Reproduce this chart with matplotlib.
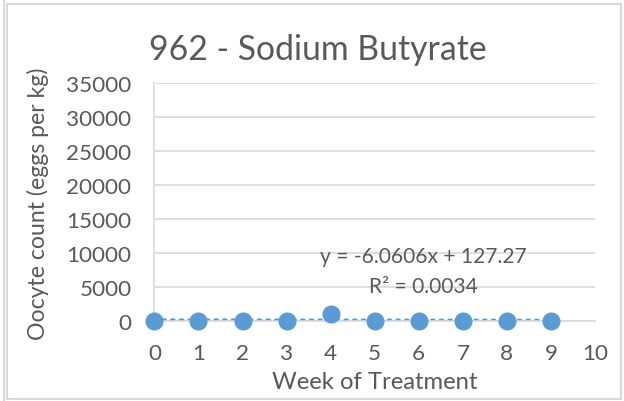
import numpy as np
import matplotlib
matplotlib.use("Agg")
import matplotlib.pyplot as plt
from matplotlib.patches import Rectangle
from matplotlib.lines import Line2D

weeks = [0, 1, 2, 3, 4, 5, 6, 7, 8, 9]
oocytes = [0, 0, 0, 0, 1000, 0, 0, 0, 0, 0]
title = "962 - Sodium Butyrate"
xlabel = "Week of Treatment"
ylabel = "Oocyte count (eggs per kg)"
xticks = list(range(0, 11))
yticks = list(range(0, 35001, 5000))

plt.rcParams['font.family'] = ['Lato', 'DejaVu Sans']
txt = '#595959'
blue = '#5B9BD5'
W, H = 624, 402

fig = plt.figure(figsize=(6.24, 4.02), dpi=100)
# outer frame
fig.patches.append(Rectangle((7 / W, 1 - 400 / H), (621 - 7) / W, (400 - 5) / H,
                             transform=fig.transFigure, fill=False,
                             edgecolor='#D9D9D9', linewidth=1.5))
fig.lines.append(Line2D([3.5 / W, 3.5 / W], [0, 1], transform=fig.transFigure,
                        color='#D9D9D9', linewidth=1.5))

ax = fig.add_axes([154.4 / W, 1 - 322 / H, (595 - 154.4) / W, (322 - 84) / H])

x = np.array(weeks, dtype=float)
y = np.array(oocytes, dtype=float)
slope, intercept = np.polyfit(x, y, 1)
pred = slope * x + intercept
r2 = 1 - np.sum((y - pred) ** 2) / np.sum((y - y.mean()) ** 2)

ax.plot(x, pred, linestyle=(0, (0.6, 1.8)), color=blue, linewidth=2.6,
        dash_capstyle='round', zorder=2.5)
ax.plot(x, y, linestyle='none', marker='o', markersize=12, color=blue,
        zorder=3, clip_on=False)

ax.set_xlim(0, 10)
ax.set_ylim(0, 35000)
ax.set_xticks(xticks)
ax.set_yticks(yticks)
ax.grid(axis='y', color='#D9D9D9', linewidth=1.2)
ax.set_axisbelow(True)
for s in ['top', 'right']:
    ax.spines[s].set_visible(False)
ax.spines['left'].set_color('#D9D9D9')
ax.spines['bottom'].set_color('#D9D9D9')
ax.spines['left'].set_linewidth(1.2)
ax.spines['bottom'].set_linewidth(1.2)
ax.tick_params(length=0, labelsize=16.2, colors=txt)
ax.tick_params(axis='x', pad=16)
ax.tick_params(axis='y', pad=16.5)

fig.text(318 / W, 1 - 60 / H, title, fontsize=24.3, color=txt,
         ha='center', va='baseline')
fig.text(375 / W, 1 - 383 / H, xlabel, fontsize=17.2, color=txt,
         ha='center', va='center')
fig.text(38 / W, 1 - 204 / H, ylabel, fontsize=16.6, color=txt,
         ha='center', va='center', rotation=90)

ax.text(6.1, 9560, f"y = {slope:.4f}x + {intercept:.2f}", fontsize=15.1, color=txt,
        ha='center', va='center')
ax.text(6.1, 5150, f"R² = {r2:.4f}", fontsize=15.1, color=txt, ha='center', va='center')

fig.savefig("out.png", dpi=100)
